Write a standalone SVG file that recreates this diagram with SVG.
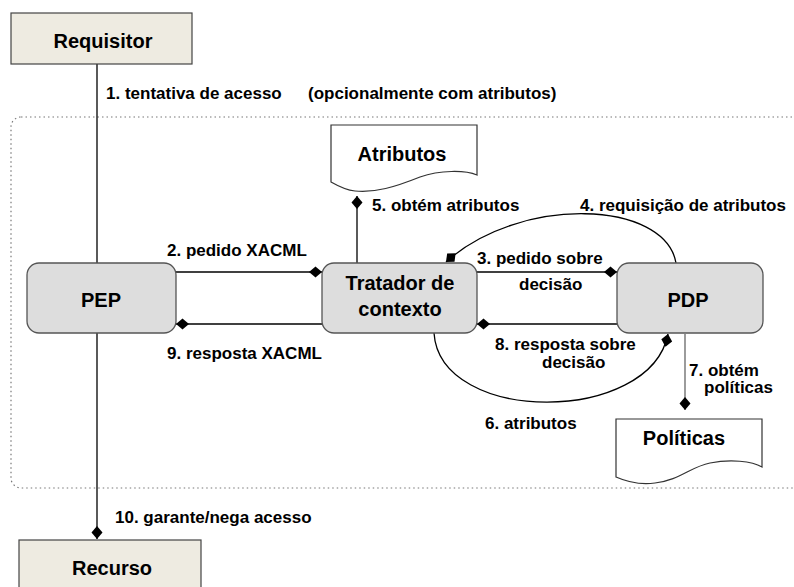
<svg xmlns="http://www.w3.org/2000/svg" width="794" height="587" viewBox="0 0 794 587">
  <defs>
    <marker id="tip" viewBox="-15 -7 16 14" refX="0" refY="0" markerWidth="16" markerHeight="14" markerUnits="userSpaceOnUse" orient="auto">
      <path d="M0,0 L-6.5,-5.5 L-13,0 L-6.5,5.5 Z" fill="#000"/>
    </marker>
  </defs>
  <style>
    text { font-family: "Liberation Sans", Arial, Helvetica, sans-serif; font-weight: bold; fill: #000; }
    .lbl { font-size: 17px; }
    .name { font-size: 20px; text-anchor: middle; }
    .actor { fill: #EEEBE1; stroke: #444; stroke-width: 1.2; }
    .proc { fill: #DDDDDD; stroke: #555; stroke-width: 1.3; }
    .doc { fill: #FFFFFF; stroke: #333; stroke-width: 1.2; }
    .wire { fill: none; stroke: #000; stroke-width: 1.3; marker-end: url(#tip); }
    .grey { stroke: #666; }
    .zone { fill: none; stroke: #777; stroke-width: 1.2; stroke-dasharray: 1.5 3; }
  </style>

  <!-- boundary of the context handler domain -->
  <rect class="zone" x="11" y="117" width="820" height="371" rx="10"/>

  <!-- connectors -->
  <g id="connectors">
    <line class="wire" x1="97" y1="64" x2="97" y2="539"/>
    <line class="wire" x1="176" y1="272" x2="322" y2="272"/>
    <line class="wire" x1="322" y1="324" x2="176" y2="324"/>
    <line class="wire" x1="477" y1="272" x2="617" y2="272"/>
    <line class="wire" x1="617" y1="324" x2="477" y2="324"/>
    <line class="wire" x1="357" y1="263" x2="357" y2="196"/>
    <path class="wire" d="M676,263 C665,200 520,195 446,262"/>
    <path class="wire" d="M434,333 C440,425 650,425 668,334"/>
    <line class="wire grey" x1="685" y1="334" x2="685" y2="410"/>
  </g>

  <!-- connector labels -->
  <g id="labels">
    <text class="lbl" x="106" y="99">1. tentativa de acesso</text>
    <text class="lbl" x="308" y="99">(opcionalmente com atributos)</text>
    <text class="lbl" x="167" y="256">2. pedido XACML</text>
    <text class="lbl" x="477" y="264">3. pedido sobre</text>
    <text class="lbl" x="519" y="290">decisão</text>
    <text class="lbl" x="580" y="211">4. requisição de atributos</text>
    <text class="lbl" x="372" y="211">5. obtém atributos</text>
    <text class="lbl" x="485" y="429">6. atributos</text>
    <text class="lbl" x="689" y="376">7. obtém</text>
    <text class="lbl" x="704" y="393">políticas</text>
    <text class="lbl" x="495" y="350">8. resposta sobre</text>
    <text class="lbl" x="542" y="368">decisão</text>
    <text class="lbl" x="167" y="359">9. resposta XACML</text>
    <text class="lbl" x="115" y="523">10. garante/nega acesso</text>
  </g>

  <g id="requisitor">
    <rect class="actor" x="11" y="13" width="181" height="51"/>
    <text class="name" x="103" y="48">Requisitor</text>
  </g>

  <g id="recurso">
    <rect class="actor" x="19" y="540" width="182" height="60"/>
    <text class="name" x="112" y="575">Recurso</text>
  </g>

  <g id="pep">
    <rect class="proc" x="27" y="263" width="149" height="70" rx="12"/>
    <text class="name" x="101" y="307">PEP</text>
  </g>

  <g id="tratador">
    <rect class="proc" x="322" y="263" width="155" height="70" rx="12"/>
    <text class="name" x="400" y="290">Tratador de</text>
    <text class="name" x="400" y="316">contexto</text>
  </g>

  <g id="pdp">
    <rect class="proc" x="617" y="263" width="146" height="70" rx="12"/>
    <text class="name" x="688" y="307">PDP</text>
  </g>

  <g id="atributos">
    <path class="doc" d="M331,125 H477 V175 C465,170 440,170 420,177 C395,187 375,193 355,191 C345,190 338,186 331,182 Z"/>
    <text class="name" x="402" y="161">Atributos</text>
  </g>

  <g id="politicas">
    <path class="doc" d="M616,419 H762 V467 C752,461 730,459 710,463 C690,467 680,480 655,483 C640,485 625,481 616,477 Z"/>
    <text class="name" x="684" y="445">Políticas</text>
  </g>
</svg>
